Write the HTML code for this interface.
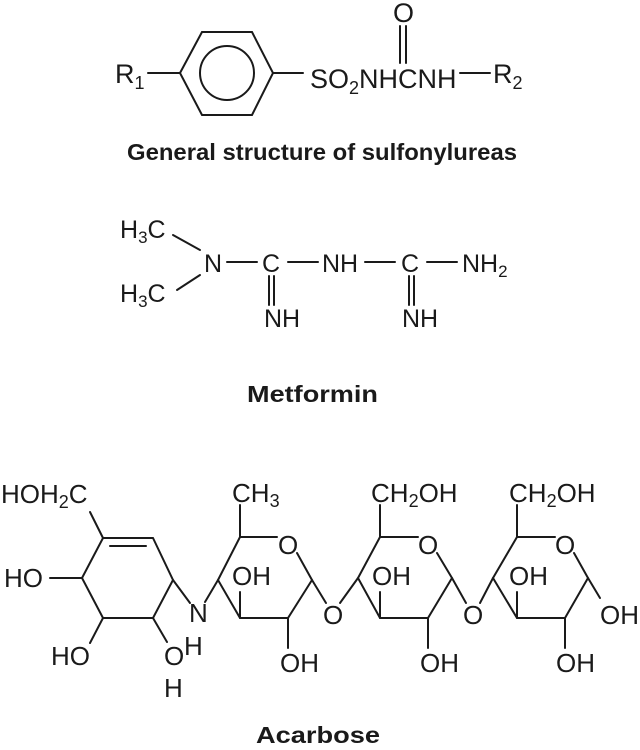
<!DOCTYPE html>
<html><head><meta charset="utf-8"><style>
html,body{margin:0;padding:0;background:#fff;}
svg{display:block;}
text{font-family:"Liberation Sans",Arial,sans-serif;fill:#1a1a1a;}
.b{font-weight:bold;}
</style></head><body>
<svg width="640" height="750" viewBox="0 0 640 750" xmlns="http://www.w3.org/2000/svg">
<g stroke="#1a1a1a" stroke-width="2" fill="none" stroke-linecap="round">
<polygon points="180,73 202,32 252,32 273,73 252,115 202,115"/>
<circle cx="227" cy="73" r="27"/>
<line x1="148" y1="73" x2="180" y2="73"/>
<line x1="273" y1="73" x2="303" y2="73"/>
<line x1="400" y1="26" x2="400" y2="63"/>
<line x1="406" y1="26" x2="406" y2="63"/>
<line x1="460" y1="73" x2="490" y2="73"/>
<line x1="173" y1="235" x2="200" y2="250"/>
<line x1="177" y1="290" x2="200" y2="275"/>
<line x1="227" y1="262" x2="257" y2="262"/>
<line x1="288" y1="262" x2="318" y2="262"/>
<line x1="365" y1="262" x2="395" y2="262"/>
<line x1="427" y1="262" x2="457" y2="262"/>
<line x1="269" y1="276" x2="269" y2="305"/>
<line x1="274" y1="276" x2="274" y2="305"/>
<line x1="409" y1="276" x2="409" y2="305"/>
<line x1="414" y1="276" x2="414" y2="305"/>
<polyline points="153,538 173,580 153,618 103,618 82,578 103,538 153,538"/>
<line x1="110" y1="546" x2="146" y2="546"/>
<line x1="90" y1="512" x2="103" y2="538"/>
<line x1="50" y1="578" x2="82" y2="578"/>
<line x1="103" y1="618" x2="90" y2="643"/>
<line x1="153" y1="618" x2="167" y2="642"/>
<line x1="173" y1="580" x2="190" y2="603"/>
<line x1="205" y1="602" x2="218" y2="580"/>
<polyline points="277,537 240,537 218,580 240,618 288,618 312,580 297,553"/>
<line x1="240" y1="537" x2="240" y2="505"/>
<line x1="240" y1="618" x2="240" y2="592"/>
<line x1="288" y1="618" x2="288" y2="648"/>
<line x1="312" y1="580" x2="326" y2="603"/>
<line x1="340" y1="603" x2="358" y2="578"/>
<polyline points="418,537 380,537 358,578 380,618 428,618 452,578 437,553"/>
<line x1="380" y1="537" x2="380" y2="505"/>
<line x1="380" y1="618" x2="380" y2="592"/>
<line x1="428" y1="618" x2="428" y2="648"/>
<line x1="452" y1="578" x2="466" y2="603"/>
<line x1="480" y1="603" x2="493" y2="578"/>
<polyline points="555,537 517,537 493,578 517,618 565,618 588,578 574,553"/>
<line x1="517" y1="537" x2="517" y2="505"/>
<line x1="517" y1="618" x2="517" y2="592"/>
<line x1="565" y1="618" x2="565" y2="648"/>
<line x1="588" y1="578" x2="600" y2="598"/>
</g>
<g font-size="27">
<text x="115" y="83">R<tspan font-size="18" dy="6">1</tspan></text>
<text x="310" y="88">SO<tspan font-size="18" dy="6">2</tspan><tspan dy="-6">NHCNH</tspan></text>
<text x="393" y="22">O</text>
<text x="493" y="83">R<tspan font-size="18" dy="6">2</tspan></text>
</g>
<text class="b" x="127" y="160" font-size="23" textLength="390" lengthAdjust="spacingAndGlyphs">General structure of sulfonylureas</text>
<g font-size="25">
<text x="120" y="238">H<tspan font-size="17" dy="5">3</tspan><tspan dy="-5">C</tspan></text>
<text x="120" y="302">H<tspan font-size="17" dy="5">3</tspan><tspan dy="-5">C</tspan></text>
<text x="204" y="272">N</text>
<text x="262" y="272">C</text>
<text x="322" y="272">NH</text>
<text x="401" y="272">C</text>
<text x="462" y="272">NH<tspan font-size="17" dy="5">2</tspan></text>
<text x="264" y="327">NH</text>
<text x="402" y="327">NH</text>
</g>
<text class="b" x="247" y="402" font-size="23" textLength="131" lengthAdjust="spacingAndGlyphs">Metformin</text>
<g font-size="26">
<text x="1" y="503">HOH<tspan font-size="18" dy="5">2</tspan><tspan dy="-5">C</tspan></text>
<text x="4" y="587">HO</text>
<text x="51" y="665">HO</text>
<text x="164" y="665">O</text>
<text x="184" y="655">H</text>
<text x="164" y="697">H</text>
<text x="189" y="622">N</text>
<text x="232" y="502">CH<tspan font-size="18" dy="5">3</tspan></text>
<text x="278" y="554">O</text>
<text x="232" y="585">OH</text>
<text x="280" y="672">OH</text>
<text x="323" y="624">O</text>
<text x="371" y="502">CH<tspan font-size="18" dy="5">2</tspan><tspan dy="-5">OH</tspan></text>
<text x="418" y="554">O</text>
<text x="372" y="585">OH</text>
<text x="420" y="672">OH</text>
<text x="463" y="624">O</text>
<text x="509" y="502">CH<tspan font-size="18" dy="5">2</tspan><tspan dy="-5">OH</tspan></text>
<text x="555" y="554">O</text>
<text x="509" y="585">OH</text>
<text x="600" y="624">OH</text>
<text x="556" y="672">OH</text>
</g>
<text class="b" x="256" y="743" font-size="23" textLength="124" lengthAdjust="spacingAndGlyphs">Acarbose</text>
</svg>
</body></html>
